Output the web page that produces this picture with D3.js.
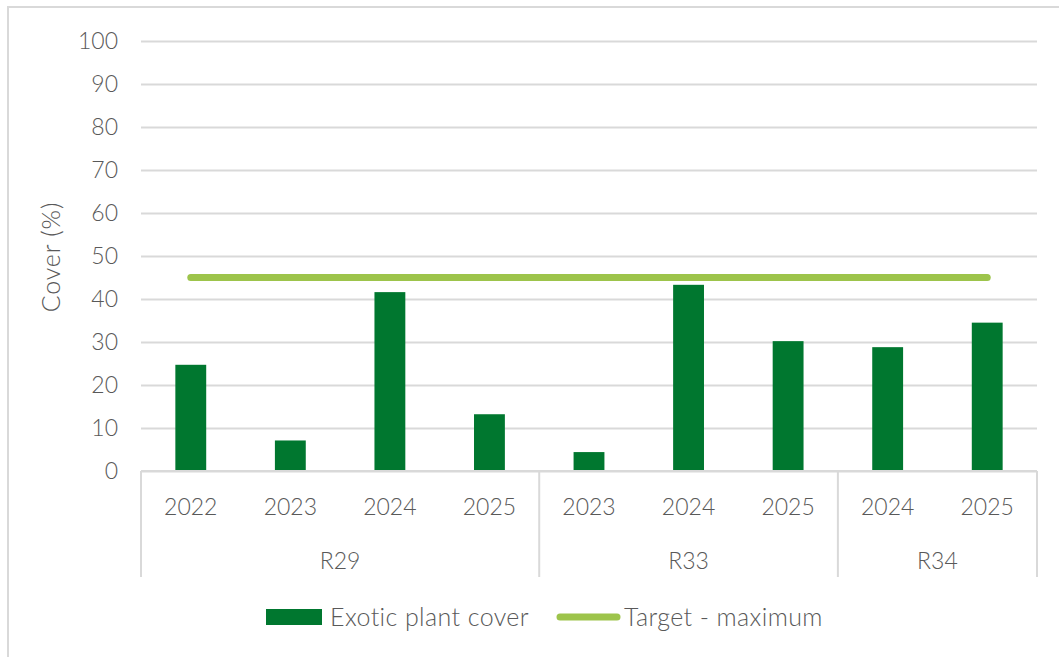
<!DOCTYPE html>
<html>
<head>
<meta charset="utf-8">
<script src="https://cdn.jsdelivr.net/npm/d3@7"></script>
<style>
    body { margin: 0; background: #fff; }
    svg text { font-family: Lato, "Open Sans", sans-serif; font-weight: 300; fill: #595959; }
</style>
</head>
<body>
<svg id="chart" width="1059" height="657"></svg>
<script>
// values
const sites = ["R29", "R29", "R29", "R29", "R33", "R33", "R33", "R34", "R34"];
const years = ["2022", "2023", "2024", "2025", "2023", "2024", "2025", "2024", "2025"];
const cover = [24.7, 7.1, 41.6, 13.2, 4.4, 43.3, 30.2, 28.8, 34.5];
const targetMax = 45;
const yTicks = [0, 10, 20, 30, 40, 50, 60, 70, 80, 90, 100];

const barColor = "#00772f";
const targetColor = "#9dc44b";
const gridColor = "#d9d9d9";

let svg = d3.select("#chart");
let layout = { left: 141, right: 1037, top: 41, bottom: 471 };

// chart frame
svg.append("rect")
    .attr("x", 8).attr("y", 7)
    .attr("width", 1060).attr("height", 660)
    .attr("fill", "none")
    .attr("stroke", gridColor)
    .attr("stroke-width", 2);

let keys = sites.map(function(s, i) { return s + "_" + years[i]; });

let x = d3.scaleBand().domain(keys).range([layout.left, layout.right])
    .paddingInner(0.69).paddingOuter(0.345);
let y = d3.scaleLinear().domain([0, 100]).range([layout.bottom, layout.top]);

// gridlines + y labels
let yAxis = d3.axisLeft(y).tickValues(yTicks)
    .tickSize(-(layout.right - layout.left)).tickPadding(23);
let yg = svg.append("g")
    .attr("transform", "translate(" + layout.left + ",0)")
    .call(yAxis);
yg.select(".domain").remove();
yg.selectAll(".tick line").attr("stroke", gridColor).attr("stroke-width", 2);
yg.selectAll(".tick text").style("font-size", "23px").attr("fill", "#595959");

// axis title
svg.append("text")
    .attr("transform", "translate(60, 257) rotate(-90)")
    .style("text-anchor", "middle")
    .style("font-size", "25px")
    .style("letter-spacing", "0.8px")
    .text("Cover (%)");

// bars
svg.selectAll(".bars").data(cover).enter()
    .append("rect")
    .attr("class", "bars")
    .attr("x", function(d, i) { return x(keys[i]); })
    .attr("y", function(d) { return y(d); })
    .attr("width", x.bandwidth())
    .attr("height", function(d) { return y(0) - y(d); })
    .attr("fill", barColor);

// target line
let line = d3.line()
    .x(function(k) { return x(k) + x.bandwidth() / 2; })
    .y(function() { return y(targetMax); });
svg.append("path")
    .datum([keys[0], keys[keys.length - 1]])
    .attr("d", line)
    .attr("fill", "none")
    .attr("stroke", targetColor)
    .attr("stroke-width", 7)
    .attr("stroke-linecap", "round");

// category axis: base line
svg.append("line")
    .attr("x1", layout.left).attr("x2", layout.right)
    .attr("y1", layout.bottom).attr("y2", layout.bottom)
    .attr("stroke", gridColor).attr("stroke-width", 2);

// year labels
svg.selectAll(".yearLabel").data(years).enter()
    .append("text")
    .attr("class", "yearLabel")
    .attr("x", function(d, i) { return x(keys[i]) + x.bandwidth() / 2; })
    .attr("y", 507)
    .attr("dy", "0.35em")
    .style("text-anchor", "middle")
    .style("font-size", "23px")
    .text(function(d) { return d; });

// site groups
let groups = [];
sites.forEach(function(s, i) {
    let last = groups[groups.length - 1];
    if (last && last.name == s) { last.end = keys[i]; }
    else { groups.push({ name: s, start: keys[i], end: keys[i] }); }
});
let step = x.step();
let groupLeft = function(g) { return x(g.start) - step * x.paddingInner() / 2; };
let groupRight = function(g) { return x(g.end) + x.bandwidth() + step * x.paddingInner() / 2; };

let edges = [groupLeft(groups[0])].concat(groups.map(groupRight));
svg.selectAll(".groupSep").data(edges).enter()
    .append("line")
    .attr("class", "groupSep")
    .attr("x1", function(d) { return d; }).attr("x2", function(d) { return d; })
    .attr("y1", layout.bottom).attr("y2", 577)
    .attr("stroke", gridColor).attr("stroke-width", 2);

svg.selectAll(".siteLabel").data(groups).enter()
    .append("text")
    .attr("class", "siteLabel")
    .attr("x", function(g) { return (groupLeft(g) + groupRight(g)) / 2; })
    .attr("y", 561)
    .attr("dy", "0.35em")
    .style("text-anchor", "middle")
    .style("font-size", "23px")
    .text(function(g) { return g.name; });

// legend
let legend = svg.append("g").attr("class", "legend");
legend.append("rect")
    .attr("x", 266).attr("y", 609)
    .attr("width", 56).attr("height", 16)
    .attr("fill", barColor);
legend.append("text")
    .attr("x", 330).attr("y", 617).attr("dy", "0.35em")
    .style("font-size", "25px")
    .style("letter-spacing", "0.4px")
    .text("Exotic plant cover");
legend.append("line")
    .attr("x1", 560).attr("x2", 617)
    .attr("y1", 617).attr("y2", 617)
    .attr("stroke", targetColor).attr("stroke-width", 7)
    .attr("stroke-linecap", "round");
legend.append("text")
    .attr("x", 624).attr("y", 617).attr("dy", "0.35em")
    .style("font-size", "25px")
    .style("letter-spacing", "0.4px")
    .text("Target - maximum");
</script>
</body>
</html>
